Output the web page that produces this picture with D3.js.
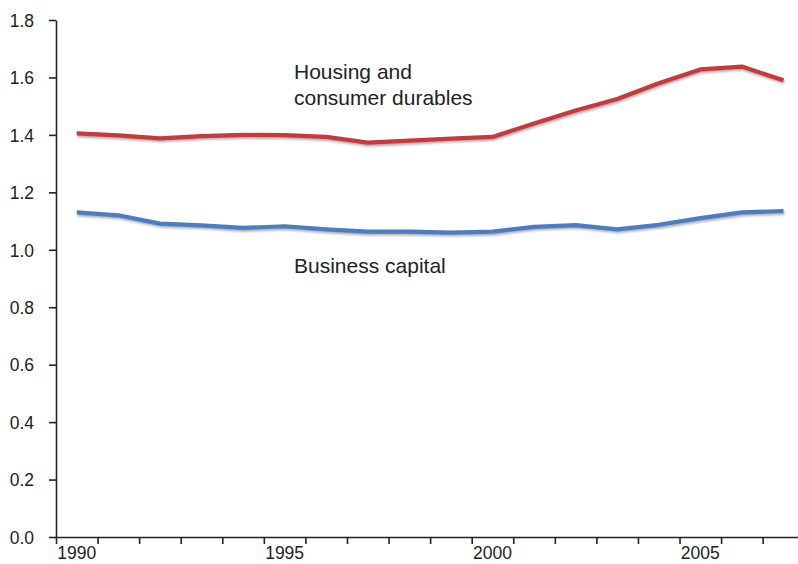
<!DOCTYPE html>
<html>
<head>
<meta charset="utf-8">
<script src="https://cdn.jsdelivr.net/npm/d3@7"></script>
<style>
  html, body { margin: 0; padding: 0; background: #fff; }
  svg { display: block; font-family: "Liberation Sans", Arial, sans-serif; }
</style>
</head>
<body>
<div id="chart"></div>
<script>
// ---- Data ----
const years = [1990, 1991, 1992, 1993, 1994, 1995, 1996, 1997, 1998, 1999,
               2000, 2001, 2002, 2003, 2004, 2005, 2006, 2007];
const housing = [1.405, 1.398, 1.388, 1.396, 1.400, 1.399, 1.393, 1.373, 1.380, 1.387,
                 1.393, 1.440, 1.485, 1.525, 1.580, 1.628, 1.638, 1.590];
const business = [1.130, 1.120, 1.091, 1.085, 1.076, 1.082, 1.071, 1.063, 1.063, 1.060,
                  1.063, 1.080, 1.086, 1.071, 1.087, 1.110, 1.130, 1.135];
const yTicks = [0.0, 0.2, 0.4, 0.6, 0.8, 1.0, 1.2, 1.4, 1.6, 1.8];
const xLabelYears = [1990, 1995, 2000, 2005];
const seriesLabels = [["Housing and", "consumer durables"], ["Business capital"]];

const W = 798, H = 564;
const svg = d3.select("#chart").append("svg").attr("width", W).attr("height", H);

const defs = svg.append("defs");
defs.append("filter").attr("id", "blur").attr("x", "-5%").attr("y", "-50%")
  .attr("width", "110%").attr("height", "200%")
  .append("feGaussianBlur").attr("stdDeviation", 0.9);

const x = d3.scaleLinear().domain([1990, 2007.85]).range([56, 798]);
const y = d3.scaleLinear().domain([0, 1.8]).range([537, 20]);

const axisColor = "#222";

// Y axis
const yAxis = svg.append("g").attr("transform", "translate(56,0)")
  .call(d3.axisLeft(y).tickValues(yTicks).tickFormat(d3.format(".1f"))
        .tickSize(7).tickSizeOuter(0).tickPadding(15));
yAxis.select(".domain").attr("stroke", axisColor).attr("stroke-width", 1.6);
yAxis.selectAll(".tick line").attr("stroke", axisColor).attr("stroke-width", 1.6);
yAxis.selectAll(".tick text").attr("fill", "#222").style("font-size", "17.5px")
  .attr("dy", "0.36em");

// X axis (ticks every year, labels centred in the year interval)
const xAxis = svg.append("g").attr("transform", "translate(0,537)")
  .call(d3.axisBottom(x).tickValues(d3.range(1990, 2008)).tickFormat("")
        .tickSize(7).tickSizeOuter(0));
xAxis.select(".domain").attr("stroke", axisColor).attr("stroke-width", 1.6);
xAxis.selectAll(".tick line").attr("stroke", axisColor).attr("stroke-width", 1.6);

svg.append("g").selectAll("text").data(xLabelYears).join("text")
  .attr("x", d => x(d + 0.5))
  .attr("y", 559)
  .attr("text-anchor", "middle")
  .attr("fill", "#222")
  .style("font-size", "17.5px")
  .text(d => d);

// Lines
const line = d3.line().x((d, i) => x(years[i] + 0.5)).y(d => y(d)).curve(d3.curveLinear);

const series = [
  { values: housing, color: "#c8393b" },
  { values: business, color: "#4a7ec2" }
];

series.forEach(s => {
  svg.append("path").datum(s.values)
    .attr("d", line)
    .attr("fill", "none")
    .attr("stroke", "#9a9a9a")
    .attr("stroke-opacity", 0.75)
    .attr("stroke-width", 4)
    .attr("stroke-linejoin", "round")
    .attr("transform", "translate(1,2)")
    .attr("filter", "url(#blur)");
  svg.append("path").datum(s.values)
    .attr("d", line)
    .attr("fill", "none")
    .attr("stroke", s.color)
    .attr("stroke-width", 4.2)
    .attr("stroke-linejoin", "round")
    .attr("stroke-linecap", "butt");
});

// Annotations
const ann = svg.append("g").attr("fill", "#222").style("font-size", "21px");
const t1 = ann.append("text").attr("x", 294).attr("y", 79);
t1.append("tspan").attr("x", 294).attr("dy", 0).text(seriesLabels[0][0]);
t1.append("tspan").attr("x", 294).attr("dy", 26).text(seriesLabels[0][1]);
ann.append("text").attr("x", 294).attr("y", 273).text(seriesLabels[1][0]);
</script>
</body>
</html>
